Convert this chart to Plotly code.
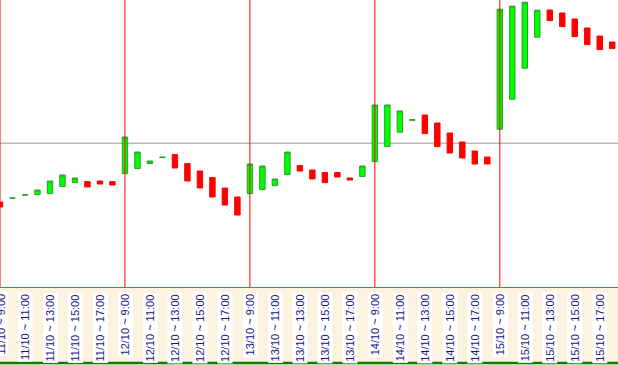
import plotly.graph_objects as go

# hourly candles, 9:00-18:00, five trading days
days = ["11/10", "12/10", "13/10", "14/10", "15/10"]
hours = [9, 10, 11, 12, 13, 14, 15, 16, 17, 18]

opens = [94.25, 94.45, 94.60, 94.62, 94.67, 95.02, 95.22, 95.27, 95.30, 95.27,
         95.67, 95.92, 96.17, 96.47, 96.62, 96.17, 95.80, 95.47, 94.95, 94.50,
         94.67, 94.87, 95.07, 95.62, 96.07, 95.85, 95.72, 95.72, 95.45, 95.52,
         96.27, 97.02, 97.74, 98.34, 98.60, 98.20, 97.70, 97.25, 96.80, 96.50,
         97.89, 99.39, 100.94, 102.49, 103.85, 103.70, 103.40, 102.95, 102.55, 102.25]
closes = [94.00, 94.45, 94.60, 94.85, 95.30, 95.60, 95.45, 95.00, 95.15, 95.10,
          97.50, 96.75, 96.30, 96.49, 95.95, 95.30, 94.95, 94.50, 94.10, 93.60,
          96.15, 96.05, 95.40, 96.75, 95.80, 95.40, 95.22, 95.50, 95.35, 96.05,
          99.10, 99.10, 98.80, 98.36, 97.67, 97.02, 96.70, 96.45, 96.15, 96.15,
          103.89, 104.04, 104.24, 103.84, 103.32, 103.02, 102.52, 102.12, 101.87, 101.92]

ref_price = 97.19
y_range = [90.0, 104.35]

# x tick labels every two hours
tick_idx = list(range(0, 50, 2))
tick_labels = [f"{d} ~ {h}:00" for d in days for h in [9, 11, 13, 15, 17]]
day_start_idx = [0, 10, 20, 30, 40]

x = list(range(len(opens)))
highs = [max(o, c) for o, c in zip(opens, closes)]
lows = [min(o, c) for o, c in zip(opens, closes)]

fig = go.Figure()
fig.add_trace(go.Candlestick(
    x=x, open=opens, high=highs, low=lows, close=closes,
    increasing=dict(fillcolor="#00FF00", line=dict(color="#2E9E2E", width=1)),
    decreasing=dict(fillcolor="#FF0000", line=dict(color="#FF0000", width=1)),
    whiskerwidth=0, showlegend=False, hoverinfo="skip",
))

shapes = [dict(type="line", xref="paper", x0=0, x1=1, yref="y", y0=ref_price, y1=ref_price,
               line=dict(color="#999999", width=1), layer="below")]
for i in day_start_idx:
    shapes.append(dict(type="line", xref="x", x0=i, x1=i, yref="paper", y0=0, y1=1,
                       line=dict(color="#FF0000", width=1), layer="above"))

annotations = []
for i, lab in zip(tick_idx, tick_labels):
    annotations.append(dict(
        x=i, xref="x", y=0, yref="paper", yshift=-5,
        text=lab, showarrow=False, textangle=-90,
        xanchor="center", yanchor="top",
        bgcolor="white", borderpad=1,
        font=dict(family="Liberation Sans, Arial, sans-serif", size=11, color="#14148C"),
    ))

# bottom green border of label strip (drawn above labels)
shapes.append(dict(type="line", xref="paper", x0=-0.01, x1=1.01, yref="paper",
                   y0=-0.2652, y1=-0.2652, line=dict(color="#0A800A", width=2.5),
                   layer="above"))

fig.update_layout(
    width=618, height=365,
    margin=dict(l=0, r=0, t=0, b=78),
    paper_bgcolor="#FBF2DF", plot_bgcolor="white",
    boxgap=0.38,
    shapes=shapes, annotations=annotations,
    xaxis=dict(range=[0, 49.46], showgrid=False, zeroline=False, showticklabels=False,
               ticks="", showline=True, linecolor="#3C9A3C", linewidth=1,
               rangeslider=dict(visible=False)),
    yaxis=dict(range=y_range, showgrid=False, zeroline=False, showticklabels=False,
               ticks="", showline=False),
)

fig.write_html("out.html", config={"displayModeBar": False, "staticPlot": True},
               post_script="document.body.style.margin='0';document.body.style.overflow='hidden';")
